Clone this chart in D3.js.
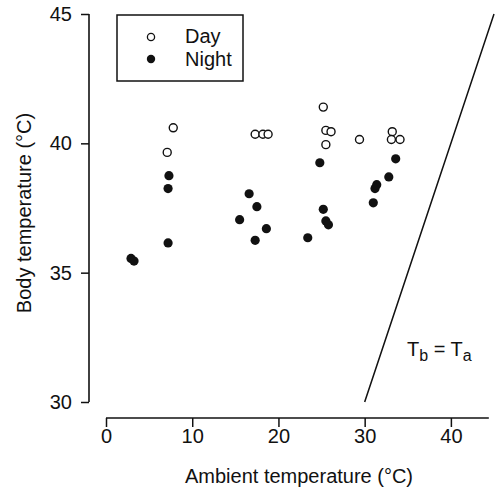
<!DOCTYPE html>
<html>
<head>
<meta charset="utf-8">
<script src="https://cdn.jsdelivr.net/npm/d3@7"></script>
<style>
  body { margin: 0; background: #fff; }
  text { font-family: "Liberation Sans", Arial, Helvetica, sans-serif; fill: #111; }
</style>
</head>
<body>
<script>
// day readings (open circles)
let dayTa = [7.8, 7.1, 17.3, 18.2, 18.8, 25.2, 25.5, 26.1, 25.5, 29.4, 33.2, 33.1, 34.1];
let dayTb = [40.6, 39.65, 40.35, 40.35, 40.35, 41.4, 40.5, 40.45, 39.95, 40.15, 40.45, 40.15, 40.15];

// night readings (filled)
let nightTa = [2.9, 3.25, 7.3, 7.2, 7.2, 16.6, 17.5, 15.5, 18.6, 17.3, 23.4, 24.8, 25.2, 25.5, 25.8, 31.0, 31.2, 31.4, 32.8, 33.6];
let nightTb = [35.55, 35.45, 38.75, 38.25, 36.15, 38.05, 37.55, 37.05, 36.7, 36.25, 36.35, 39.25, 37.45, 37.0, 36.85, 37.7, 38.25, 38.4, 38.7, 39.4];

let xMajor = [0, 10, 20, 30, 40];
let yMajor = [30, 35, 40, 45];

function main(){
    let width = 499;
    let height = 496;

    let svg = d3.select("body").append("svg")
        .attr("width", width)
        .attr("height", height);

    let x = d3.scaleLinear().domain([0, 45]).range([106, 494]);
    let y = d3.scaleLinear().domain([30, 45]).range([402, 14]);

    // x axis, offset below the plot
    let xg = svg.append("g").attr("transform", "translate(0,418)");
    xg.append("line")
        .attr("x1", x(0)).attr("x2", x(44.4))
        .attr("stroke", "#111").attr("stroke-width", 1.6);
    xg.call(d3.axisBottom(x).tickValues(d3.range(0, 45, 2)).tickSize(5).tickFormat(""))
    xg.call(d3.axisBottom(x).tickValues(xMajor).tickSize(9).tickPadding(2).tickFormat(d3.format("d")));
    xg.selectAll(".domain").remove();
    xg.selectAll(".tick line").attr("stroke", "#111").attr("stroke-width", 1.5);
    xg.selectAll(".tick text").attr("font-size", 20).attr("fill", "#111")
        .style("font-family", "Liberation Sans, Arial, sans-serif");

    // y axis
    let yg = svg.append("g").attr("transform", "translate(89,0)");
    yg.append("line")
        .attr("y1", y(45)).attr("y2", y(30))
        .attr("stroke", "#111").attr("stroke-width", 1.6);
    yg.call(d3.axisLeft(y).tickValues(d3.range(30, 46, 1)).tickSize(7).tickFormat(""));
    yg.call(d3.axisLeft(y).tickValues(yMajor).tickSize(8).tickPadding(9).tickFormat(d3.format("d")));
    yg.selectAll(".domain").remove();
    yg.selectAll(".tick line").attr("stroke", "#111").attr("stroke-width", 1.5);
    yg.selectAll(".tick text").attr("font-size", 20).attr("fill", "#111")
        .style("font-family", "Liberation Sans, Arial, sans-serif");

    // axis titles
    svg.append("text")
        .attr("x", 299).attr("y", 483)
        .attr("text-anchor", "middle")
        .attr("font-size", 20)
        .text("Ambient temperature (°C)");

    svg.append("text")
        .attr("transform", "translate(31,213) rotate(-90)")
        .attr("text-anchor", "middle")
        .attr("font-size", 20)
        .text("Body temperature (°C)");

    // Tb = Ta line
    svg.append("line")
        .attr("x1", x(30)).attr("y1", y(30))
        .attr("x2", x(45)).attr("y2", y(45))
        .attr("stroke", "#111").attr("stroke-width", 1.5);

    let lab = svg.append("text").attr("x", 407).attr("y", 356).attr("font-size", 20);
    lab.append("tspan").text("T");
    lab.append("tspan").attr("font-size", 16).attr("dy", 5).text("b");
    lab.append("tspan").attr("dy", -5).text(" = T");
    lab.append("tspan").attr("font-size", 16).attr("dy", 5).text("a");

    // points
    let night = nightTa.map((d, i) => ({ta: d, tb: nightTb[i]}));
    let day = dayTa.map((d, i) => ({ta: d, tb: dayTb[i]}));

    svg.selectAll("circle.night")
        .data(night)
        .enter()
        .append("circle")
        .attr("class", "night")
        .attr("cx", d => x(d.ta))
        .attr("cy", d => y(d.tb))
        .attr("r", 4.6)
        .attr("fill", "#111");

    svg.selectAll("circle.day")
        .data(day)
        .enter()
        .append("circle")
        .attr("class", "day")
        .attr("cx", d => x(d.ta))
        .attr("cy", d => y(d.tb))
        .attr("r", 4)
        .attr("fill", "#fff")
        .attr("stroke", "#111")
        .attr("stroke-width", 1.4);

    // legend
    let leg = svg.append("g");
    leg.append("rect")
        .attr("x", 117).attr("y", 15)
        .attr("width", 126).attr("height", 66)
        .attr("fill", "#fff")
        .attr("stroke", "#111").attr("stroke-width", 1.5);
    leg.append("circle").attr("cx", 151).attr("cy", 37).attr("r", 3.6)
        .attr("fill", "#fff").attr("stroke", "#111").attr("stroke-width", 1.3);
    leg.append("circle").attr("cx", 151).attr("cy", 59).attr("r", 4.2)
        .attr("fill", "#111");
    leg.append("text").attr("x", 185).attr("y", 43).attr("font-size", 20).text("Day");
    leg.append("text").attr("x", 185).attr("y", 66).attr("font-size", 20).text("Night");
}

main();
</script>
</body>
</html>
